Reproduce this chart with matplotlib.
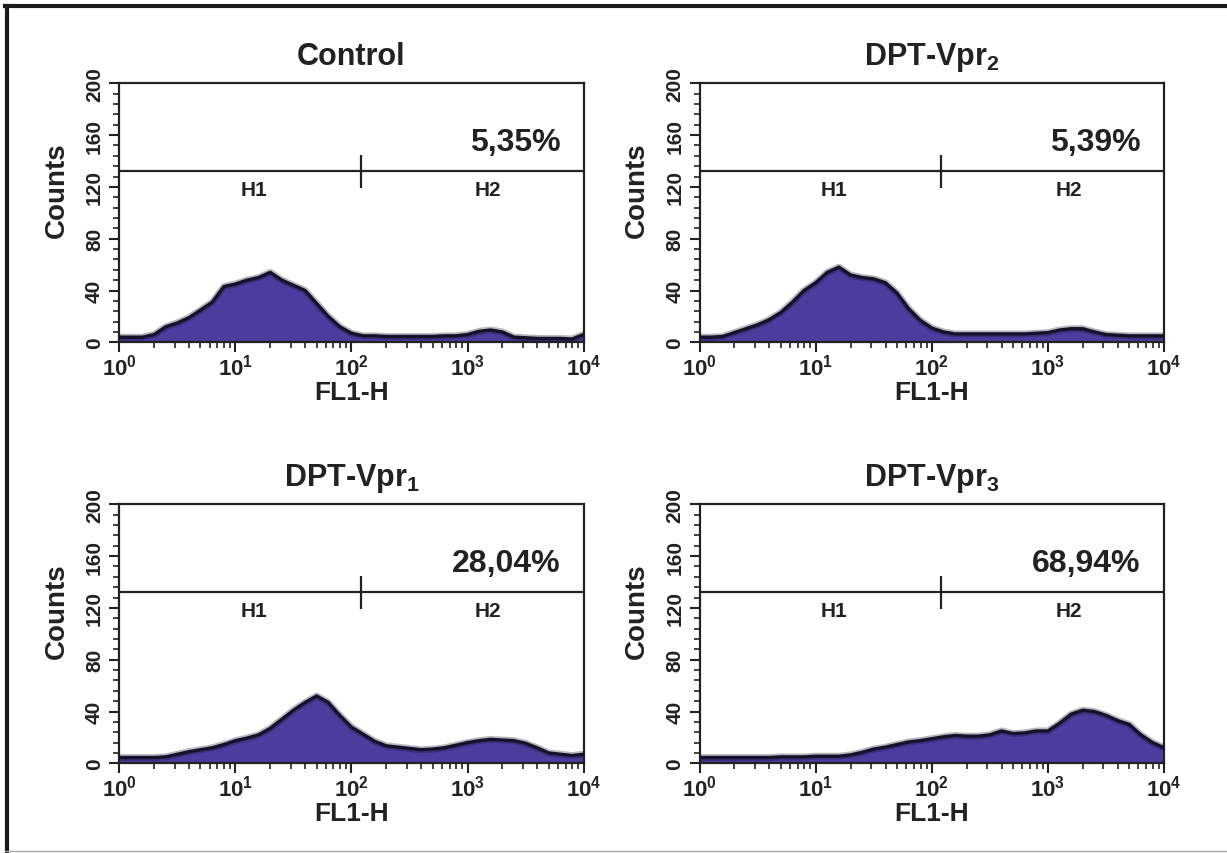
import numpy as np
import matplotlib
matplotlib.use('Agg')
import matplotlib.pyplot as plt
from matplotlib.lines import Line2D
from matplotlib.ticker import MultipleLocator, LogLocator, NullFormatter

plt.rcParams['font.family'] = ['Liberation Sans', 'DejaVu Sans']
plt.rcParams['font.weight'] = 'bold'
plt.rcParams['axes.titleweight'] = 'bold'
plt.rcParams['axes.labelweight'] = 'bold'
plt.rcParams['mathtext.fontset'] = 'custom'
plt.rcParams['mathtext.rm'] = 'Liberation Sans:bold'
plt.rcParams['mathtext.bf'] = 'Liberation Sans:bold'

# FL1-H channel positions (log10, one bin every 0.1 decade)
decades = np.round(np.arange(0, 4.01, 0.1), 1)

titles = ['Control', r'DPT-Vpr$_\mathdefault{2}$', r'DPT-Vpr$_\mathdefault{1}$', r'DPT-Vpr$_\mathdefault{3}$']
percents = ['5,35%', '5,39%', '28,04%', '68,94%']

control = [4, 4, 4, 6, 12, 15, 19, 25, 31, 43, 45, 48, 50, 54, 48, 44, 40, 30, 20, 12, 7,
           5, 5, 4.5, 4.5, 4.5, 4.5, 4.5, 5, 5, 6, 8.5, 9.5, 8, 4, 3.5, 3, 3, 3, 2.5, 6]
vpr2 = [4, 4, 4.5, 7.5, 10.5, 13.5, 17.5, 23, 31, 40, 46, 54, 58, 52, 50, 49, 46, 38, 26, 17, 11,
        8, 6.5, 6.5, 6.5, 6.5, 6.5, 6.5, 6.5, 7, 7.5, 9.5, 10.5, 10.5, 8, 6, 5.5, 5, 5, 5, 5]
vpr1 = [4.5, 4.5, 4.5, 4.5, 5, 7, 9, 10.5, 12, 14.5, 17.5, 19.5, 22, 27, 34, 41, 47, 52, 47, 37, 28,
        22.5, 17, 13.5, 12.5, 11.5, 10.5, 11, 12, 14, 16, 17.5, 18.5, 18, 17.5, 15.5, 12, 8, 7, 6, 7]
vpr3 = [4.5, 4.5, 4.5, 4.5, 4.5, 4.5, 4.5, 5, 5, 5, 5.5, 5.5, 5.5, 6.5, 8.5, 11, 12.5, 14.5, 16.5, 17.5, 19,
        20.5, 21.5, 21, 21, 22, 25, 23, 23.5, 25, 25, 31, 38, 41, 40, 37, 33, 30, 22, 16, 12]
series = [control, vpr2, vpr1, vpr3]

# gate H1 | H2
gate_y = 132
gate_split = 120
gate_tick = (119, 145)

fill_col = '#4b3c9e'
edge_col = '#15112a'
ink = '#222222'

fig = plt.figure(figsize=(12.27, 8.54), dpi=100)

boxes = [[0.0973, 0.598, 0.3783, 0.3033], [0.5701, 0.598, 0.3787, 0.3033],
         [0.0973, 0.105, 0.3783, 0.3033], [0.5701, 0.105, 0.3787, 0.3033]]

fl = 10 ** decades
for box, title, pct, counts in zip(boxes, titles, percents, series):
    ax = fig.add_axes(box)
    ax.set_xscale('log')
    ax.fill_between(fl, counts, 0, color=fill_col, lw=0, zorder=2)
    ax.plot(fl, counts, color=edge_col, lw=5, alpha=0.3, zorder=3)
    ax.plot(fl, counts, color=edge_col, lw=2.4, zorder=3)
    ax.set_xlim(1, 1e4)
    ax.set_ylim(0, 200)

    ax.axhline(gate_y, color=ink, lw=1.6, zorder=4)
    ax.vlines(gate_split, gate_tick[0], gate_tick[1], color=ink, lw=1.6, zorder=4)
    ax.text(14.5, 118, 'H1', fontsize=15, ha='center', va='center', color=ink)
    ax.text(1500, 118, 'H2', fontsize=15, ha='center', va='center', color=ink)
    ax.text(6300, 155, pct, fontsize=23, ha='right', va='center', color=ink)

    ax.set_title(title, fontsize=22, pad=14, color=ink)
    ax.set_ylabel('Counts', fontsize=20, color=ink)
    ax.yaxis.set_label_coords(-0.106, 0.59)
    ax.set_xlabel('FL1-H', fontsize=19, color=ink)
    ax.xaxis.set_label_coords(0.5, -0.19)
    ax.xaxis.label.set_va('center')

    ax.set_yticks([0, 40, 80, 120, 160, 200])
    ax.yaxis.set_minor_locator(MultipleLocator(8))
    ax.xaxis.set_major_locator(LogLocator(base=10, numticks=10))
    ax.xaxis.set_minor_locator(LogLocator(base=10, subs=np.arange(2, 10), numticks=20))
    ax.xaxis.set_minor_formatter(NullFormatter())
    ax.tick_params(which='major', direction='out', length=7, width=1.5, colors=ink)
    ax.tick_params(which='minor', direction='out', length=4.5, width=1.2, colors=ink)
    ax.tick_params(axis='x', pad=1, labelsize=16)
    ax.tick_params(axis='y', labelrotation=90, pad=4, labelsize=15)
    for lab in ax.get_yticklabels():
        lab.set_va('center')
    for sp in ax.spines.values():
        sp.set_linewidth(1.6)
        sp.set_color(ink)

# outer frame (top and left edges)
fig.add_artist(Line2D([5 / 1227, 1], [1 - 6.5 / 854] * 2, transform=fig.transFigure, color='#1a1a1a', lw=3))
fig.add_artist(Line2D([7 / 1227] * 2, [2 / 854, 1 - 6.5 / 854], transform=fig.transFigure, color='#1a1a1a', lw=3))
fig.add_artist(Line2D([5 / 1227, 1], [2 / 854] * 2, transform=fig.transFigure, color='#aaaaaa', lw=1))

fig.savefig('out.png', dpi=100)
